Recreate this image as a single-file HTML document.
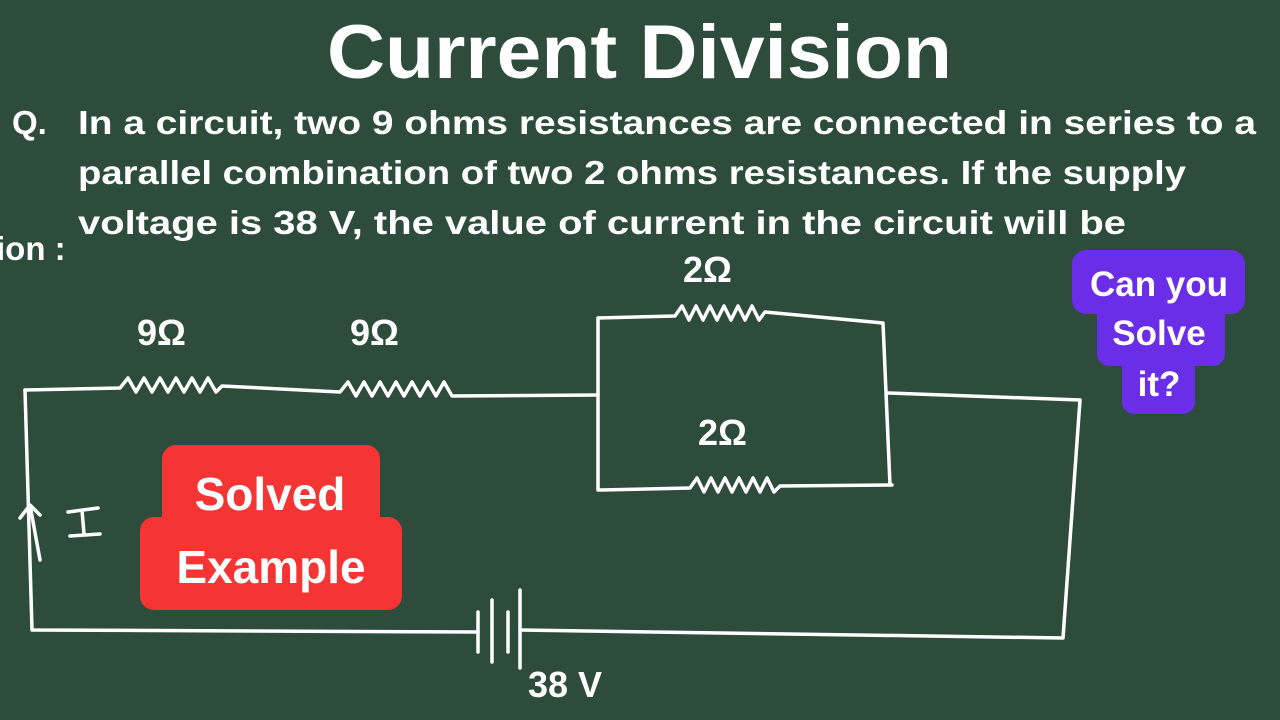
<!DOCTYPE html>
<html><head><meta charset="utf-8"><style>
html,body{margin:0;padding:0;width:1280px;height:720px;overflow:hidden;background:#2e4c3c;}
svg{display:block}
</style></head><body>
<svg width="1280" height="720" viewBox="0 0 1280 720" xmlns="http://www.w3.org/2000/svg">
<rect width="1280" height="720" fill="#2e4c3c"/>
<text x="327" y="78" textLength="625" lengthAdjust="spacingAndGlyphs" font-family="Liberation Sans, sans-serif" font-weight="bold" font-size="76" fill="#fff">Current Division</text>
<g font-family="Liberation Sans, sans-serif" font-size="33" font-weight="bold" fill="#fff">
<text x="12" y="134">Q.</text>
<text x="78" y="134" textLength="1178" lengthAdjust="spacingAndGlyphs">In a circuit, two 9 ohms resistances are connected in series to a</text>
<text x="78" y="184" textLength="1108" lengthAdjust="spacingAndGlyphs">parallel combination of two 2 ohms resistances. If the supply</text>
<text x="78" y="234" textLength="1048" lengthAdjust="spacingAndGlyphs">voltage is 38 V, the value of current in the circuit will be</text>
<text x="-4" y="260">ion :</text>
</g>
<g stroke="#fff" stroke-width="3.5" fill="none" stroke-linecap="round" stroke-linejoin="round">
<path d="M25,390 L120,388 l8,-10 l8,14 l8,-14 l8,14 l8,-14 l8,14 l8,-14 l8,14 l8,-14 l8,14 l8,-14 l8,14 l6,-6 L340,392 l8,-10 l8,14 l8,-14 l8,14 l8,-14 l8,14 l8,-14 l8,14 l8,-14 l8,14 l8,-14 l8,14 l8,-14 l8,14 L598,395"/>
<path d="M25,390 L32,630 L478,632"/>
<path d="M520,630 L1063,638 L1080,400 L888,393"/>
<path d="M478,612 L478,652 M492,600 L492,662 M508,612 L508,652 M520,590 L520,668"/>
<path d="M598,318 L598,490 M598,318 L675,316 l7,-10 l7,14 l7,-14 l7,14 l7,-14 l7,14 l7,-14 l7,14 l7,-14 l7,14 l7,-14 l7,14 l6,-8 L883,323 L890,485"/>
<path d="M600,490 L690,488 l7,-10 l7,14 l7,-14 l7,14 l7,-14 l7,14 l7,-14 l7,14 l7,-14 l7,14 l7,-14 l7,14 l6,-6 L892,485"/>
<path d="M40,560 L30,505 M20,518 L30,505 L40,515"/>
<path d="M68,512 L98,508 M82,510 L84,534 M70,536 L100,534"/>
</g>
<g font-family="Liberation Sans, sans-serif" font-size="36" font-weight="bold" fill="#fff">
<text x="137" y="345">9Ω</text>
<text x="350" y="345">9Ω</text>
<text x="683" y="282">2Ω</text>
<text x="698" y="445">2Ω</text>
<text x="528" y="697">38 V</text>
</g>
<rect x="162" y="445" width="218" height="90" rx="14" fill="#f53434"/>
<rect x="140" y="517" width="262" height="93" rx="14" fill="#f53434"/>
<g font-family="Liberation Sans, sans-serif" font-weight="bold" font-size="46" fill="#fff" text-anchor="middle">
<text x="270" y="510">Solved</text>
<text x="271" y="583">Example</text>
</g>
<rect x="1072" y="250" width="173" height="64" rx="14" fill="#6a2de8"/>
<rect x="1097" y="300" width="128" height="66" rx="12" fill="#6a2de8"/>
<rect x="1122" y="350" width="73" height="64" rx="12" fill="#6a2de8"/>
<g font-family="Liberation Sans, sans-serif" font-weight="bold" font-size="35" fill="#fff" text-anchor="middle">
<text x="1159" y="296">Can you</text>
<text x="1159" y="345">Solve</text>
<text x="1159" y="396">it?</text>
</g>
</svg>
</body></html>
